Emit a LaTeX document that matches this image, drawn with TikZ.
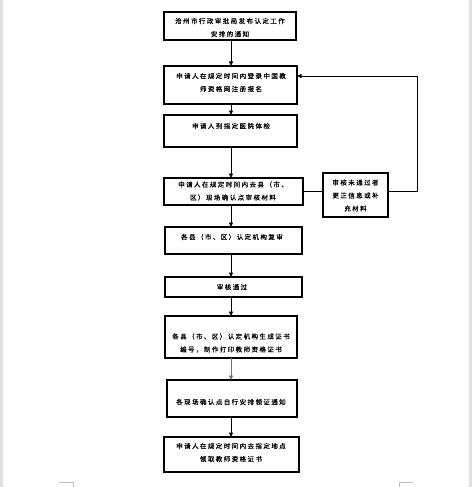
\documentclass[tikz,border=0pt]{standalone}
\usepackage{fontspec}
\newfontfamily\cjk[LetterSpace=22,FakeBold=0.3]{Noto Sans CJK SC}
\usetikzlibrary{arrows.meta}
\begin{document}
\begin{tikzpicture}[x=1pt,y=-1pt,
  box/.style={draw=black,line width=1.1pt,inner sep=0pt,outer sep=0pt},
  txt/.style={font=\cjk\fontsize{6.5pt}{13pt}\selectfont,align=center,inner sep=0pt},
  arr/.style={line width=0.8pt,-{Triangle[length=4.5pt,width=4pt]}},
  ln/.style={line width=0.8pt},
  cornermark/.style={draw=black!25,line width=0.8pt}]
\useasboundingbox (0,0) rectangle (472,487);
\fill[black!12] (0,0) rectangle (3,487);
\fill[black!12] (469,0) rectangle (472,487);
\draw[cornermark] (59,482) -- (73,482) -- (73,487);
\draw[cornermark] (413,482) -- (399,482) -- (399,487);
\coordinate (axis) at (231,0);
\node[box,minimum width=132pt,minimum height=28pt] (b1) at (230,26) {};
\node[box,minimum width=133pt,minimum height=38pt] (b2) at (230.5,85) {};
\node[box,minimum width=133pt,minimum height=32pt] (b3) at (230.5,131) {};
\node[box,minimum width=139pt,minimum height=27pt] (b4) at (233.5,191.5) {};
\node[box,minimum width=65pt,minimum height=44pt] (b5) at (355.5,195) {};
\node[box,minimum width=137pt,minimum height=27pt] (b6) at (233.5,240.5) {};
\node[box,minimum width=137pt,minimum height=20pt] (b7) at (233.5,287) {};
\node[box,minimum width=132pt,minimum height=42pt] (b8) at (231,337) {};
\node[box,minimum width=130pt,minimum height=37pt] (b9) at (232,398.5) {};
\node[box,minimum width=135pt,minimum height=35pt] (b10) at (231.5,454.5) {};
\node[txt] (t1) at (230,27.5) {沧州市行政审批局发布认定工作\\安排的通知};
\node[txt] (t2) at (231,82.5) {申请人在规定时间内登录中国教\\师资格网注册报名};
\node[txt] (t3) at (231,126) {申请人到指定医院体检};
\node[txt] (t4) at (233,191) {申请人在规定时间内去县（市、\\区）现场确认点审核材料};
\node[txt] (t5) at (355.5,195.5) {审核未通过者\\更正信息或补\\充材料};
\node[txt] (t6) at (232,237) {各县（市、区）认定机构复审};
\node[txt] (t7) at (232,287) {审核通过};
\node[txt] (t8) at (231,343) {各县（市、区）认定机构生成证书\\编号，制作打印教师资格证书};
\node[txt] (t9) at (231,402) {各现场确认点自行安排领证通知};
\node[txt] (t10) at (231,452.5) {申请人在规定时间内去指定地点\\领取教师资格证书};
\draw[arr] (b1.south -| axis) -- (b2.north -| axis);
\draw[arr] (b2.south -| axis) -- (b3.north -| axis);
\draw[arr] (b3.south -| axis) -- (b4.north -| axis);
\draw[arr] (b4.south -| axis) -- (b6.north -| axis);
\draw[arr] (b6.south -| axis) -- (b7.north -| axis);
\draw[arr] (b7.south -| axis) -- (b8.north -| axis);
\draw[arr,draw=black!55] (b8.south -| axis) -- (b9.north -| axis);
\draw[arr] (b9.south -| axis) -- (b10.north -| axis);
\coordinate (r1) at (417,191);
\coordinate (r2) at (417,76);
\draw[ln] (b4.east |- r1) -- (b5.west |- r1);
\draw[arr] (b5.east |- r1) -- (r1) -- (r2) -- (b2.east |- r2);
\end{tikzpicture}
\end{document}
